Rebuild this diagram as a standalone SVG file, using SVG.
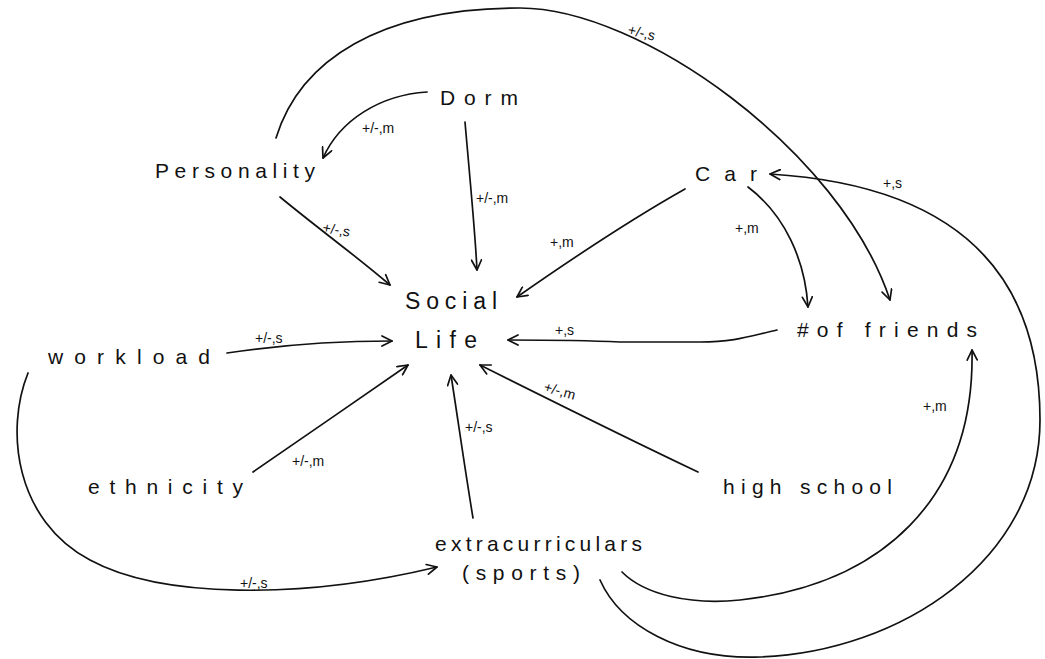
<svg xmlns="http://www.w3.org/2000/svg" width="1045" height="659" viewBox="0 0 1045 659">
<style>
.node{font-family:"Liberation Sans","DejaVu Sans",sans-serif;font-size:21px;fill:#111;}
.big{font-size:23px;}
.lbl{font-family:"Liberation Sans","DejaVu Sans",sans-serif;font-size:14px;fill:#111;}
.e{fill:none;stroke:#111;stroke-width:1.7;stroke-linecap:round;marker-end:url(#ah);}
</style>
<defs>
<marker id="ah" viewBox="0 0 12 12" markerWidth="12" markerHeight="12" refX="11" refY="6" orient="auto" markerUnits="userSpaceOnUse">
<path d="M1,1 L11,6 L1,11" fill="none" stroke="#111" stroke-width="1.7" stroke-linecap="round" stroke-linejoin="round"/>
</marker>
</defs>
<rect width="1045" height="659" fill="#fff"/>
<g id="connectors">
<path class="e" d="M276,138 C300,60 380,8 520,8 C640,8 840,150 890,300"/>
<path class="e" d="M427,92 C380,95 340,120 323,158"/>
<path class="e" d="M465,122 C470,180 475,230 477,270"/>
<path class="e" d="M280,197 C320,230 355,255 390,285"/>
<path class="e" d="M685,189 C630,220 570,260 517,297"/>
<path class="e" d="M748,187 C785,215 805,260 808,307"/>
<path class="e" d="M600,580 C620,625 680,660 760,657 C900,652 1040,560 1040,420 C1040,230 900,182 770,174"/>
<path class="e" d="M622,572 C645,595 690,605 740,600 C880,585 975,500 972,350"/>
<path class="e" d="M777,330 C750,336 735,342 700,342 L620,342 C580,340 540,340 508,340"/>
<path class="e" d="M227,353 C280,345 330,341 392,341"/>
<path class="e" d="M253,472 C300,440 360,398 408,365"/>
<path class="e" d="M698,472 C620,435 550,400 480,365"/>
<path class="e" d="M473,518 C465,470 458,420 451,375"/>
<path class="e" d="M28,373 C5,430 15,520 90,560 C160,598 300,600 437,567"/>
<text class="lbl" x="627" y="34" transform="rotate(14 627 34)">+/-,s</text>
<text class="lbl" x="362" y="133">+/-,m</text>
<text class="lbl" x="476" y="203">+/-,m</text>
<text class="lbl" x="322" y="232" transform="rotate(10 322 232)">+/-,s</text>
<text class="lbl" x="550" y="247">+,m</text>
<text class="lbl" x="735" y="233">+,m</text>
<text class="lbl" x="883" y="188">+,s</text>
<text class="lbl" x="555" y="335">+,s</text>
<text class="lbl" x="255" y="343">+/-,s</text>
<text class="lbl" x="292" y="466">+/-,m</text>
<text class="lbl" x="465" y="432">+/-,s</text>
<text class="lbl" x="543" y="391" transform="rotate(16 543 391)">+/-,m</text>
<text class="lbl" x="923" y="411">+,m</text>
<text class="lbl" x="240" y="588">+/-,s</text>
</g>
<g id="dorm"><text class="node" x="440" y="105" textLength="78" lengthAdjust="spacing">Dorm</text></g>
<g id="personality"><text class="node" x="155" y="178" textLength="160" lengthAdjust="spacing">Personality</text></g>
<g id="car"><text class="node" x="695" y="181" textLength="62" lengthAdjust="spacing">Car</text></g>
<g id="social-life">
<text class="node big" x="405" y="309" textLength="92" lengthAdjust="spacing">Social</text>
<text class="node big" x="415" y="348" textLength="62" lengthAdjust="spacing">Life</text>
</g>
<g id="workload"><text class="node" x="48" y="364" textLength="162" lengthAdjust="spacing">workload</text></g>
<g id="friends"><text class="node" x="797" y="337" textLength="180" lengthAdjust="spacing">#of friends</text></g>
<g id="ethnicity"><text class="node" x="88" y="494" textLength="155" lengthAdjust="spacing">ethnicity</text></g>
<g id="high-school"><text class="node" x="723" y="494" textLength="169" lengthAdjust="spacing">high school</text></g>
<g id="extracurriculars">
<text class="node" x="435" y="551" textLength="207" lengthAdjust="spacing">extracurriculars</text>
<text class="node" x="462" y="580" textLength="118" lengthAdjust="spacing">(sports)</text>
</g>
</svg>
